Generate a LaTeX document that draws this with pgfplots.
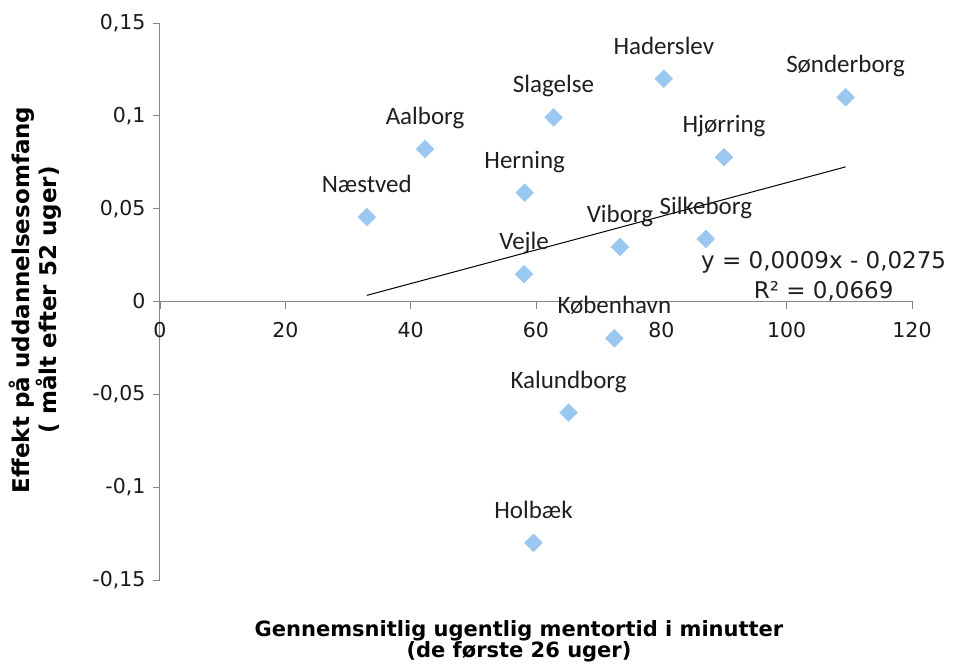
\documentclass[border=0pt]{standalone}
\usepackage{fontspec}
\setmainfont{DejaVu Sans}
\newfontfamily\calib{Carlito}
\usepackage{pgfplots}
\pgfplotsset{compat=1.18}
\definecolor{mk}{RGB}{155,200,240}
\definecolor{axgray}{RGB}{134,134,134}
\begin{document}
\begin{tikzpicture}[x=1pt,y=1pt]
\useasboundingbox (-160,-84) rectangle (794,580);
\begin{axis}[
  at={(0,0)}, anchor=south west,
  scale only axis, width=752pt, height=557pt,
  xmin=0, xmax=120, ymin=-0.15, ymax=0.15,
  axis x line*=middle, axis y line*=left,
  xtick={0,20,40,60,80,100,120},
  xticklabels={0,20,40,60,80,100,120},
  ytick={-0.15,-0.1,-0.05,0,0.05,0.1,0.15},
  yticklabels={{-0,15},{-0,1},{-0,05},0,{0,05},{0,1},{0,15}},
  hide obscured x ticks=false, hide obscured y ticks=false,
  scaled y ticks=false, scaled x ticks=false,
  tick label style={font=\fontsize{20.5}{23}\selectfont, text=black!90},
  xticklabel style={yshift=-10pt},
  yticklabel style={xshift=-4pt},
  tick align=outside,
  major tick length=7pt,
  axis line style={axgray, line width=1pt},
  tick style={axgray, line width=0.9pt},
  clip=false,
]
\addplot[black, line width=1pt] coordinates {(33,0.0033) (109.4,0.0725)};
\addplot[mk, only marks, mark=square*, mark size=6.3pt,
  mark options={rotate=45, fill=mk, draw=mk},
  nodes near coords, point meta=explicit symbolic,
  nodes near coords style={font=\calib\fontsize{25}{27}\selectfont, anchor=base, yshift=24.5pt, text=black!88}]
  table[meta=label] {
x y label
33.0 0.0455 Næstved
42.3 0.0821 Aalborg
62.8 0.0992 Slagelse
80.4 0.1200 Haderslev
109.4 0.1100 Sønderborg
90.0 0.0777 Hjørring
58.2 0.0586 Herning
73.4 0.0294 Viborg
87.1 0.0337 Silkeborg
58.1 0.0147 Vejle
72.5 -0.0198 København
65.2 -0.0599 Kalundborg
59.6 -0.1300 Holbæk
};
\node[align=center, font=\fontsize{23}{30}\selectfont, text=black!88] at (axis cs:105.9,0.0137) {y = 0,0009x - 0,0275\\R² = 0,0669};
\node[anchor=north, align=center, inner sep=0pt, font=\bfseries\fontsize{21}{21.5}\selectfont] at (rel axis cs:0.4774,-0.0718) {Gennemsnitlig ugentlig mentortid i minutter\\(de første 26 uger)};
\node[rotate=90, align=center, inner sep=0pt, font=\bfseries\fontsize{23}{25}\selectfont] at (rel axis cs:-0.166,0.503) {Effekt på uddannelsesomfang\\( målt efter 52 uger)};
\end{axis}
\end{tikzpicture}
\end{document}
